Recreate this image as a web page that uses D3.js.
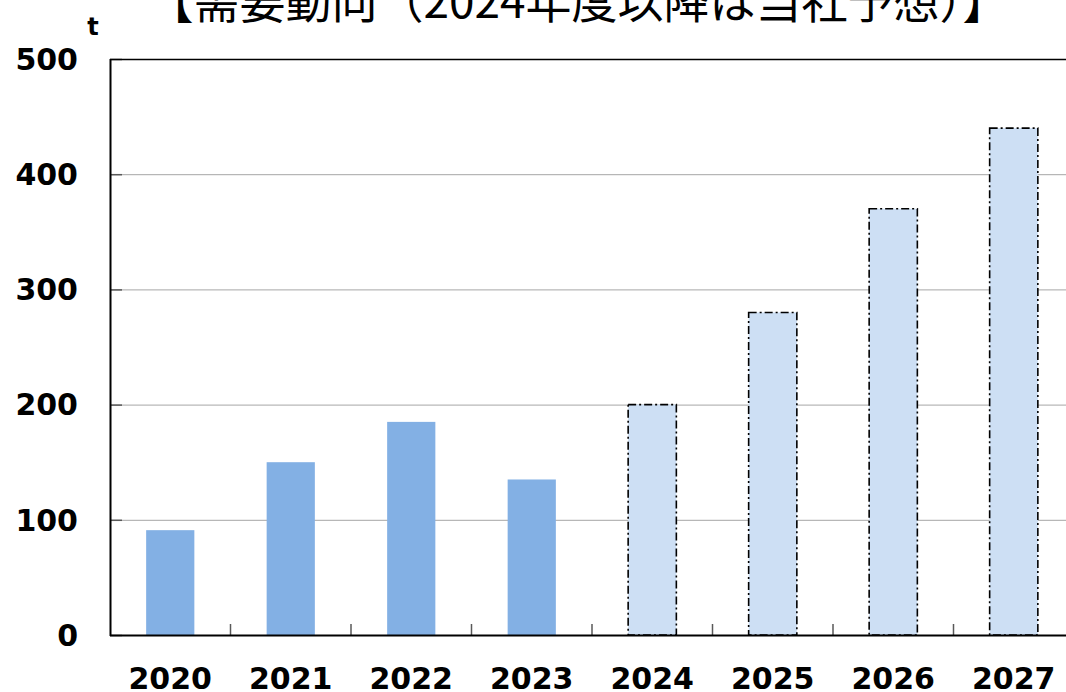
<!DOCTYPE html>
<html lang="ja">
<head>
    <meta charset="UTF-8">
    <title>需要動向</title>
    <style>
        body {
            margin: 0;
            padding: 0;
            background-color: #fff;
            overflow: hidden;
        }
        .title {
            font-family: 'Noto Sans CJK JP', sans-serif;
            font-size: 46px;
            fill: #000;
        }
        .tick-label {
            font-family: 'DejaVu Sans', 'Verdana', sans-serif;
            font-weight: bold;
            font-size: 30px;
            fill: #000;
        }
        .grid {
            stroke: #a6a6a6;
            stroke-width: 1px;
        }
    </style>
</head>
<body>
    <svg id="chart" width="1066" height="692"></svg>

    <script src="https://d3js.org/d3.v7.min.js"></script>
    <script>
        // data
        const years = ['2020', '2021', '2022', '2023', '2024', '2025', '2026', '2027'];
        const demand = [91, 150, 185, 135, 200, 280, 370, 440];
        const isForecast = [false, false, false, false, true, true, true, true];
        const yTicks = [0, 100, 200, 300, 400, 500];

        const rows = years.map((y, i) => ({ year: y, value: demand[i], forecast: isForecast[i] }));

        const svg = d3.select('#chart');

        const plot = { left: 110, top: 59, bottom: 635, right: 1074 };

        const x = d3.scaleBand()
            .domain(years)
            .range([plot.left, plot.right])
            .paddingInner(0.6)
            .paddingOuter(0.3);

        // band step boundaries (for the small category ticks)
        const step = (plot.right - plot.left) / years.length;

        const y = d3.scaleLinear()
            .domain([0, 500])
            .range([plot.bottom, plot.top]);

        // gridlines
        svg.append('g')
            .selectAll('line')
            .data(yTicks.filter(t => t > 0 && t < 500))
            .enter()
            .append('line')
            .attr('class', 'grid')
            .attr('x1', plot.left)
            .attr('x2', plot.right)
            .attr('y1', d => y(d) + 0.5)
            .attr('y2', d => y(d) + 0.5);

        // y ticks (inside)
        svg.append('g')
            .selectAll('line')
            .data(yTicks)
            .enter()
            .append('line')
            .attr('x1', plot.left)
            .attr('x2', plot.left + 12)
            .attr('y1', d => y(d) + 0.5)
            .attr('y2', d => y(d) + 0.5)
            .attr('stroke', '#595959')
            .attr('stroke-width', 1.5);

        // bars
        svg.append('g')
            .selectAll('rect')
            .data(rows)
            .enter()
            .append('rect')
            .attr('x', d => x(d.year))
            .attr('y', d => y(d.value))
            .attr('width', x.bandwidth())
            .attr('height', d => y(0) - y(d.value))
            .attr('fill', d => d.forecast ? '#cddff4' : '#83b0e4')
            .attr('stroke', d => d.forecast ? '#000' : 'none')
            .attr('stroke-width', 1.6)
            .attr('stroke-dasharray', d => d.forecast ? '8,3,2,3' : null);

        // category separator ticks on the x axis
        svg.append('g')
            .selectAll('line')
            .data(d3.range(1, years.length))
            .enter()
            .append('line')
            .attr('x1', i => plot.left + i * step)
            .attr('x2', i => plot.left + i * step)
            .attr('y1', plot.bottom - 11)
            .attr('y2', plot.bottom)
            .attr('stroke', '#595959')
            .attr('stroke-width', 1.5);

        // plot frame: top, left, bottom
        svg.append('line')
            .attr('x1', plot.left).attr('x2', plot.right)
            .attr('y1', plot.top + 0.5).attr('y2', plot.top + 0.5)
            .attr('stroke', '#000').attr('stroke-width', 1.5);
        svg.append('line')
            .attr('x1', plot.left + 0.5).attr('x2', plot.left + 0.5)
            .attr('y1', plot.top).attr('y2', plot.bottom + 1)
            .attr('stroke', '#000').attr('stroke-width', 2);
        svg.append('line')
            .attr('x1', plot.left).attr('x2', plot.right)
            .attr('y1', plot.bottom + 0.5).attr('y2', plot.bottom + 0.5)
            .attr('stroke', '#000').attr('stroke-width', 2);

        // y labels
        svg.append('g')
            .selectAll('text')
            .data(yTicks)
            .enter()
            .append('text')
            .attr('class', 'tick-label')
            .attr('x', 78)
            .attr('y', d => y(d))
            .attr('dy', '0.36em')
            .attr('text-anchor', 'end')
            .text(d => d);

        // x labels
        svg.append('g')
            .selectAll('text')
            .data(years)
            .enter()
            .append('text')
            .attr('class', 'tick-label')
            .attr('x', d => x(d) + x.bandwidth() / 2)
            .attr('y', 689)
            .attr('text-anchor', 'middle')
            .text(d => d);

        // unit
        svg.append('text')
            .attr('x', 93)
            .attr('y', 35)
            .attr('text-anchor', 'middle')
            .style('font-family', "'DejaVu Sans', sans-serif")
            .style('font-weight', 'bold')
            .style('font-size', '24px')
            .text('t');

        // title (cut at the top like the original)
        svg.append('text')
            .attr('class', 'title')
            .attr('x', 578)
            .attr('y', 18)
            .attr('text-anchor', 'middle')
            .text('【需要動向（2024年度以降は当社予想）】');
    </script>
</body>
</html>
